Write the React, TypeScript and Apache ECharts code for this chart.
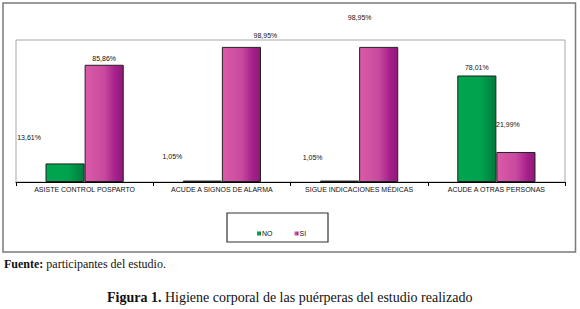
import React, { useEffect, useRef } from "react";
import * as echarts from "echarts";

const categories = [
  "ASISTE CONTROL POSPARTO",
  "ACUDE A SIGNOS DE ALARMA",
  "SIGUE INDICACIONES MÉDICAS",
  "ACUDE A OTRAS PERSONAS",
];
const noValues = [13.61, 1.05, 1.05, 78.01];
const siValues = [85.86, 98.95, 98.95, 21.99];
// label offsets (as drawn in the original, labels are displaced)
const noLabelOffsets = [[-36, -19], [-30, -18], [-27, -17], [0, -1]];
const siLabelOffsets = [[0, 0], [24, -5], [-19, -23], [-8, -21]];

const fmt = (v: number) => v.toFixed(2).replace(".", ",") + "%";

export default function App() {
  const ref = useRef<HTMLDivElement>(null);
  useEffect(() => {
    if (!ref.current) return;
    const chart = echarts.init(ref.current, undefined, { renderer: "svg" });
    const green = new echarts.graphic.LinearGradient(0, 0, 1, 0, [
      { offset: 0, color: "#00a550" },
      { offset: 0.6, color: "#00a24e" },
      { offset: 1, color: "#007a3c" },
    ]);
    const pink = new echarts.graphic.LinearGradient(0, 0, 1, 0, [
      { offset: 0, color: "#dc5aa8" },
      { offset: 0.5, color: "#c84a9e" },
      { offset: 0.8, color: "#a61f8a" },
      { offset: 1, color: "#8e1a78" },
    ]);
    const labelBase = {
      show: true,
      position: "top" as const,
      distance: 3,
      fontSize: 7,
      fontFamily: "Liberation Sans, Arial, sans-serif",
      color: "#111",
      formatter: (p: any) => fmt(p.value),
    };
    chart.setOption({
      animation: false,
      backgroundColor: "#fff",
      grid: {
        left: 16,
        top: 40,
        width: 549,
        height: 142,
        show: true,
        borderColor: "#a8a8a8",
        borderWidth: 1,
        backgroundColor: "transparent",
      },
      xAxis: {
        type: "category",
        data: categories,
        axisLine: { lineStyle: { color: "#000", width: 1 } },
        axisTick: { show: true, length: 4, lineStyle: { color: "#000" } },
        axisLabel: {
          interval: 0,
          fontSize: 7,
          margin: 4,
          color: "#111",
          fontFamily: "Liberation Sans, Arial, sans-serif",
        },
      },
      yAxis: {
        type: "value",
        min: 0,
        max: 104,
        show: false,
        splitLine: { show: false },
      },
      legend: {
        left: 252,
        top: 225,
        itemWidth: 4,
        itemHeight: 4,
        itemGap: 22,
        icon: "rect",
        itemStyle: { borderWidth: 0 },
        textStyle: {
          fontSize: 7,
          color: "#111",
          fontFamily: "Liberation Sans, Arial, sans-serif",
          padding: [0, 0, 0, -4],
        },
        data: ["NO", "SI"],
      },
      series: [
        {
          name: "NO",
          type: "bar",
          barGap: "0%",
          barCategoryGap: "43%",
          itemStyle: { color: green, borderColor: "#222", borderWidth: 1 },
          data: noValues.map((v, i) => ({
            value: v,
            label: { ...labelBase, offset: noLabelOffsets[i] },
          })),
        },
        {
          name: "SI",
          type: "bar",
          itemStyle: { color: pink, borderColor: "#222", borderWidth: 1 },
          data: siValues.map((v, i) => ({
            value: v,
            label: { ...labelBase, offset: siLabelOffsets[i] },
          })),
        },
      ],
      graphic: [
        {
          type: "rect",
          shape: { x: 3, y: 3, width: 572.5, height: 249 },
          style: { fill: "none", stroke: "#7a7a7a", lineWidth: 1.5 },
          z: -1,
        },
        {
          type: "rect",
          shape: { x: 227, y: 213, width: 101, height: 29 },
          style: { fill: "none", stroke: "#333", lineWidth: 1.2 },
        },
        {
          type: "text",
          left: 4,
          top: 258,
          style: {
            text: "{b|Fuente:} participantes del estudio.",
            rich: {
              b: {
                fontWeight: "bold",
                fontSize: 12,
                fontFamily: "Liberation Serif, serif",
                fill: "#111",
              },
            },
            fontSize: 12,
            fontFamily: "Liberation Serif, serif",
            fill: "#111",
          },
        },
        {
          type: "text",
          left: 107,
          top: 290,
          style: {
            text: "{b|Figura 1.} Higiene corporal de las puérperas del estudio realizado",
            rich: {
              b: {
                fontWeight: "bold",
                fontSize: 14,
                fontFamily: "Liberation Serif, serif",
                fill: "#111",
              },
            },
            fontSize: 14,
            fontFamily: "Liberation Serif, serif",
            fill: "#111",
          },
        },
      ],
    });
    return () => chart.dispose();
  }, []);
  return (
    <div
      ref={ref}
      style={{ position: "absolute", left: 0, top: 0, width: 580, height: 309 }}
    />
  );
}
